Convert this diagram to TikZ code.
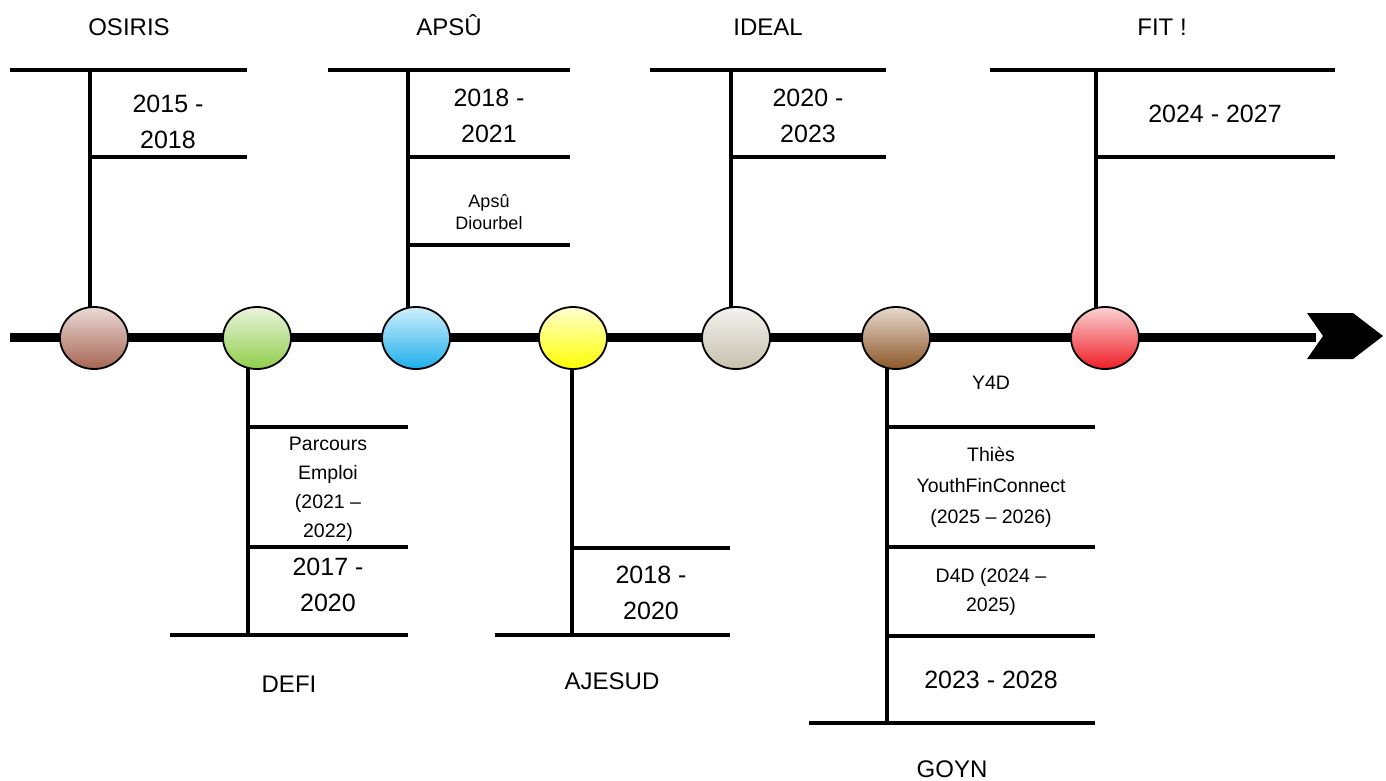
\documentclass[tikz,border=0pt]{standalone}
\usepackage{fontspec}
\setmainfont{Liberation Sans}
\usetikzlibrary{shapes.geometric}
\definecolor{c1t}{HTML}{EBDAD6}\definecolor{c1b}{HTML}{A66552}
\definecolor{c2t}{HTML}{E9F4DD}\definecolor{c2b}{HTML}{90CE4A}
\definecolor{c3t}{HTML}{CFEFFB}\definecolor{c3b}{HTML}{1DAEEB}
\definecolor{c4t}{HTML}{FFFFCF}\definecolor{c4b}{HTML}{FFFF00}
\definecolor{c5t}{HTML}{F3F2EF}\definecolor{c5b}{HTML}{C6C0AC}
\definecolor{c6t}{HTML}{E7DBCE}\definecolor{c6b}{HTML}{8C5629}
\definecolor{c7t}{HTML}{FBD2D4}\definecolor{c7b}{HTML}{EE1C24}
\tikzset{
  bar/.style={line width=4pt},
  axisline/.style={line width=9pt},
  dot/.style={ellipse, draw=black, line width=1.8pt, minimum width=68pt, minimum height=62pt, inner sep=0pt},
  big/.style={font=\fontsize{25}{36}\selectfont, align=center, inner sep=0pt},
  small/.style={font=\fontsize{19.5}{29}\selectfont, align=center, inner sep=0pt},
  lbl/.style={font=\fontsize{24}{28}\selectfont, inner sep=0pt},
}
\begin{document}
\begin{tikzpicture}[x=1pt,y=-1pt]
\useasboundingbox (0,0) rectangle (1386,781);
% axis
\coordinate (axL) at (10,337);
\coordinate (axR) at (1316,337);
\draw[axisline] (axL) -- (axR);
\fill (1307,313) -- (1353,313) -- (1383,336) -- (1353,359) -- (1307,359) -- (1323,336) -- cycle;
% circle positions
\coordinate (p1) at (94,338);
\coordinate (p2) at (257,338);
\coordinate (p3) at (416,338);
\coordinate (p4) at (573,338);
\coordinate (p5) at (736,338);
\coordinate (p6) at (896,338);
\coordinate (p7) at (1105,338);
% OSIRIS
\coordinate (oA) at (10,70); \coordinate (oB) at (247,70);
\coordinate (oV) at (90,70); \coordinate (oM1) at (90,157); \coordinate (oM1e) at (247,157);
\draw[bar] (oA) -- (oB);
\draw[bar] (oV) -- (oV |- p1);
\draw[bar] (oM1) -- (oM1e);
% APSU
\coordinate (aA) at (328,70); \coordinate (aB) at (570,70);
\coordinate (aV) at (408,70);
\coordinate (aM1) at (408,157); \coordinate (aM1e) at (570,157);
\coordinate (aM2) at (408,245); \coordinate (aM2e) at (570,245);
\draw[bar] (aA) -- (aB);
\draw[bar] (aV) -- (aV |- p3);
\draw[bar] (aM1) -- (aM1e);
\draw[bar] (aM2) -- (aM2e);
% IDEAL
\coordinate (iA) at (650,70); \coordinate (iB) at (886,70);
\coordinate (iV) at (731,70);
\coordinate (iM1) at (731,157); \coordinate (iM1e) at (886,157);
\draw[bar] (iA) -- (iB);
\draw[bar] (iV) -- (iV |- p5);
\draw[bar] (iM1) -- (iM1e);
% FIT
\coordinate (fA) at (990,70); \coordinate (fB) at (1335,70);
\coordinate (fV) at (1096,70);
\coordinate (fM1) at (1096,157); \coordinate (fM1e) at (1335,157);
\draw[bar] (fA) -- (fB);
\draw[bar] (fV) -- (fV |- p7);
\draw[bar] (fM1) -- (fM1e);
% DEFI
\coordinate (dA) at (170,635); \coordinate (dB) at (408,635);
\coordinate (dV) at (248,635);
\coordinate (dM1) at (248,427); \coordinate (dM1e) at (408,427);
\coordinate (dM2) at (248,547); \coordinate (dM2e) at (408,547);
\draw[bar] (dA) -- (dB);
\draw[bar] (dV) -- (dV |- p2);
\draw[bar] (dM1) -- (dM1e);
\draw[bar] (dM2) -- (dM2e);
% AJESUD
\coordinate (jA) at (495,635); \coordinate (jB) at (730,635);
\coordinate (jV) at (572,635);
\coordinate (jM1) at (572,548); \coordinate (jM1e) at (730,548);
\draw[bar] (jA) -- (jB);
\draw[bar] (jV) -- (jV |- p4);
\draw[bar] (jM1) -- (jM1e);
% GOYN
\coordinate (gA) at (809,723); \coordinate (gB) at (1095,723);
\coordinate (gV) at (887,723);
\coordinate (gM1) at (887,427); \coordinate (gM1e) at (1095,427);
\coordinate (gM2) at (887,547); \coordinate (gM2e) at (1095,547);
\coordinate (gM3) at (887,636); \coordinate (gM3e) at (1095,636);
\draw[bar] (gA) -- (gB);
\draw[bar] (gV) -- (gV |- p6);
\draw[bar] (gM1) -- (gM1e);
\draw[bar] (gM2) -- (gM2e);
\draw[bar] (gM3) -- (gM3e);
% circles
\node[dot, top color=c1t, bottom color=c1b] (c1) at (p1) {};
\node[dot, top color=c2t, bottom color=c2b] (c2) at (p2) {};
\node[dot, top color=c3t, bottom color=c3b] (c3) at (p3) {};
\node[dot, top color=c4t, bottom color=c4b] (c4) at (p4) {};
\node[dot, top color=c5t, bottom color=c5b] (c5) at (p5) {};
\node[dot, top color=c6t, bottom color=c6b] (c6) at (p6) {};
\node[dot, top color=c7t, bottom color=c7b] (c7) at (p7) {};
% labels
\node[lbl] (lOsiris) at (129,27) {OSIRIS};
\node[lbl, anchor=base] (lApsu) at (449,36) {APSÛ};
\node[lbl] (lIdeal) at (768,27) {IDEAL};
\node[lbl] (lFit) at (1162,27) {FIT !};
\node[lbl] (lDefi) at (289,684) {DEFI};
\node[lbl] (lAjesud) at (612,681) {AJESUD};
\node[lbl] (lGoyn) at (952,769) {GOYN};
% texts
\node[big] (tOsiris) at (168,122) {2015 -\\2018};
\node[big] (tApsu) at (489,116) {2018 -\\2021};
\node[small, font=\fontsize{18}{22}\selectfont] (tApsuD) at (489,212) {Apsû\\Diourbel};
\node[big] (tIdeal) at (808,116) {2020 -\\2023};
\node[big] (tFit) at (1215,114) {2024 - 2027};
\node[small] (tParcours) at (328,489) {Parcours\\Emploi\\(2021 –\\2022)};
\node[big] (tDefi) at (328,585) {2017 -\\2020};
\node[big] (tAjesud) at (651,593) {2018 -\\2020};
\node[small] (tY4D) at (991,383) {Y4D};
\node[small, font=\fontsize{19.5}{31}\selectfont] (tThies) at (991,487) {Thiès\\YouthFinConnect\\(2025 – 2026)};
\node[small] (tD4D) at (991,592) {D4D (2024 –\\2025)};
\node[big] (tGoyn) at (991,680) {2023 - 2028};
\end{tikzpicture}
\end{document}
